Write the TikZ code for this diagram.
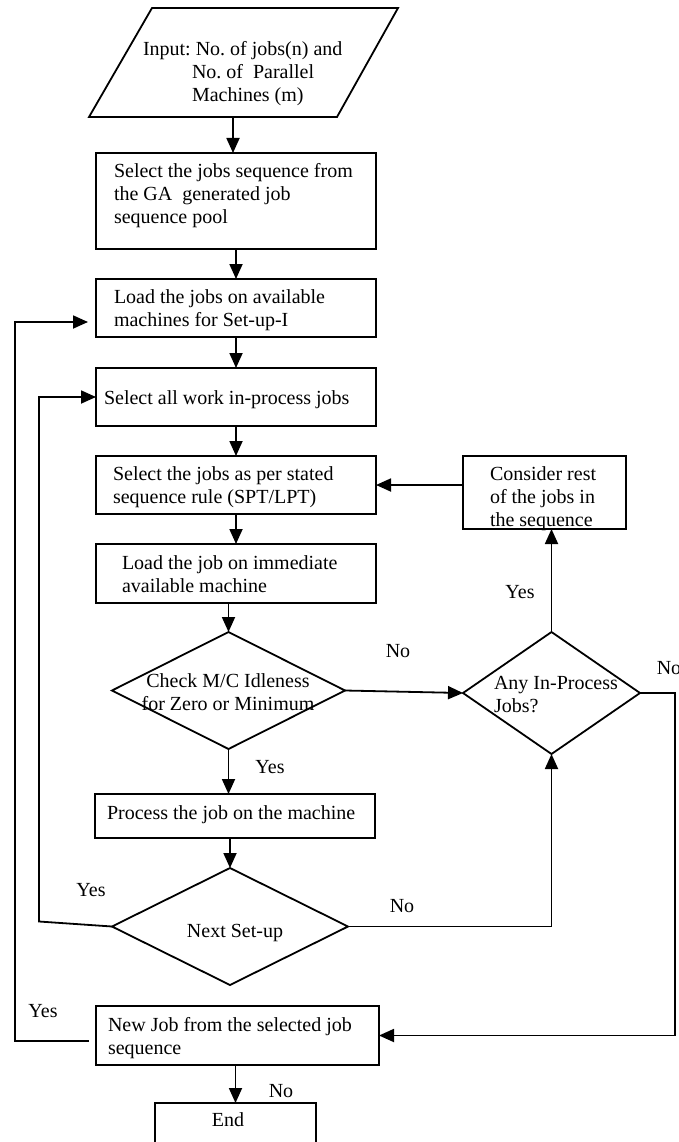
\documentclass[tikz,border=0pt]{standalone}
\usepackage{fontspec}
\setmainfont{Liberation Serif}
\usetikzlibrary{shapes.geometric,arrows.meta,calc}
\begin{document}
\frenchspacing
\begin{tikzpicture}[x=1pt,y=-1pt,
  every node/.style={font=\fontsize{20}{23}\selectfont, inner sep=0pt, outer sep=0pt},
  box/.style={draw, line width=1.8pt, rectangle, anchor=north west},
  dia/.style={draw, line width=1.8pt, diamond},
  txt/.style={align=left, anchor=north west},
  ctxt/.style={align=center},
  line/.style={line width=1.8pt},
  arr/.style={line width=1.8pt, -{Triangle[length=15pt,width=13pt]}}]
\useasboundingbox (0,0) rectangle (679,1142);
% input parallelogram
\draw[line] (152,8) -- (398,8) -- (337,117) -- (89,117) -- cycle;
\coordinate (inpb) at (233,117);
\node[txt] (inpt) at (143,41) {Input: No. of jobs(n) and\\\hspace*{49pt}No. of\ \ Parallel\\\hspace*{49pt}Machines (m)};
% boxes
\node[box, minimum width=280pt, minimum height=96pt] (b2) at (96,153) {};
\node[txt] (b2t) at (114,163) {Select the jobs sequence from\\the GA\ \ generated job\\sequence pool};
\node[box, minimum width=280pt, minimum height=58pt] (b3) at (96,279) {};
\node[txt] (b3t) at (114,290) {Load the jobs on available\\machines for Set-up-I};
\node[box, minimum width=280pt, minimum height=58pt] (b4) at (96,368) {};
\node[txt] (b4t) at (104,391) {Select all work in-process jobs};
\node[box, minimum width=280pt, minimum height=58pt] (b5) at (96,456) {};
\node[txt] (b5t) at (113,467) {Select the jobs as per stated\\sequence rule (SPT/LPT)};
\node[box, minimum width=280pt, minimum height=59pt] (b6) at (96,544) {};
\node[txt] (b6t) at (122,556) {Load the job on immediate\\available machine};
\node[box, minimum width=163pt, minimum height=73pt] (cons) at (463,456) {};
\node[txt] (const) at (490,467) {Consider rest\\of the jobs in\\the sequence};
% diamonds
\node[dia, minimum width=233pt, minimum height=117pt] (d1) at (228.5,690.5) {};
\node[ctxt] (d1t) at (228,692) {Check M/C Idleness\\for Zero or Minimum};
\node[dia, minimum width=177pt, minimum height=122pt] (d2) at (551.5,693) {};
\node[txt] (d2t) at (494,676) {Any In-Process\\Jobs?};
\node[box, minimum width=280pt, minimum height=44pt] (b7) at (95,794) {};
\node[txt] (b7t) at (107,806) {Process the job on the machine};
\node[dia, minimum width=236pt, minimum height=117pt] (d3) at (230,926.5) {};
\node (d3t) at (235,933) {Next Set-up};
\node[box, minimum width=283pt, minimum height=59pt] (b8) at (96,1006) {};
\node[txt] (b8t) at (108,1017) {New Job from the selected job\\sequence};
\node[box, minimum width=161pt, minimum height=50pt] (endn) at (155,1103) {};
\node (endt) at (228,1120) {End};
% labels
\node (l1) at (398,651) {No};
\node (l2) at (520,592) {Yes};
\node (l3) at (669,668) {No};
\node (l4) at (270,767) {Yes};
\node (l5) at (91,890) {Yes};
\node (l6) at (402,906) {No};
\node (l7) at (43,1011) {Yes};
\node (l8) at (281,1091) {No};
% connectors
\draw[arr] (inpb) -- (inpb |- b2.north);
\draw[arr] (b2.south) -- (b3.north);
\draw[arr] (b3.south) -- (b4.north);
\draw[arr] (b4.south) -- (b5.north);
\draw[arr] (b5.south) -- (b6.north);
\draw[arr] (d1.north |- b6.south) -- (d1.north);
\draw[arr] (d1.south) -- (d1.south |- b7.north);
\draw[arr] (d3.north |- b7.south) -- (d3.north);
\draw[arr] (d1.east) -- (d2.west);
\draw[arr] (d2.north) -- (d2.north |- cons.south);
\draw[arr] (cons.west |- b5.east) -- (b5.east);
\draw[arr] (d2.east) -- ++(35,0) |- (b8.east);
\draw[arr] (d3.east) -| (d2.south);
\draw[arr] (d3.west) -- ++(-73,-5) |- (b4.west);
\draw[arr] ($(b8.west)+(-7,5.5)$) -- ++(-74,0) |- ($(b3.west)+(-8,14)$);
\draw[arr] (b8.south -| endn.north) -- (endn.north);
\end{tikzpicture}
\end{document}
